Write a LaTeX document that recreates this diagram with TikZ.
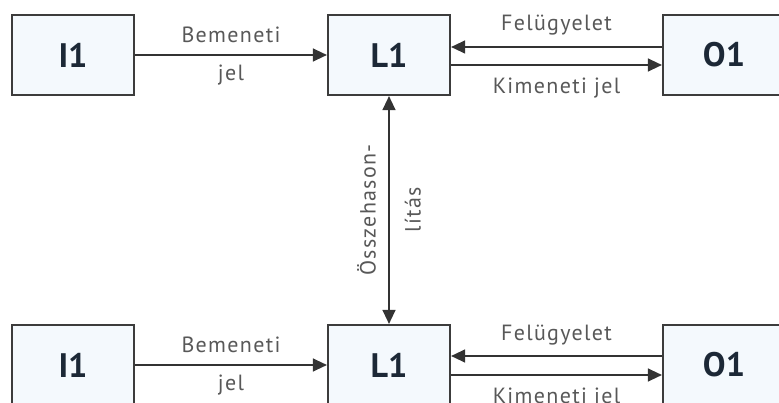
\documentclass[tikz,border=0pt]{standalone}
\usepackage{fontspec}
\setmainfont{PT Sans}
\newfontfamily\widesans[LetterSpace=6]{PT Sans}
\usetikzlibrary{arrows.meta}
\definecolor{boxfill}{HTML}{F4F9FD}
\definecolor{boxline}{HTML}{3C3C3C}
\definecolor{labelgray}{HTML}{585858}
\definecolor{boxtext}{HTML}{1C2836}

\begin{document}
\begin{tikzpicture}[x=1pt, y=-1pt,
    block/.style={draw=boxline, line width=2.2pt, fill=boxfill,
      minimum width=122pt, minimum height=80pt,
      font=\bfseries\fontsize{34}{40}\selectfont, text=boxtext},
    signal/.style={line width=1.3pt, draw=black!80},
    fwd/.style={signal, -{Triangle[length=14pt,width=13pt]}},
    twoway/.style={signal, {Triangle[length=14pt,width=13pt]}-{Triangle[length=14pt,width=13pt]}},
    lbl/.style={font=\widesans\fontsize{22}{25}\selectfont, text=labelgray}]
\useasboundingbox (0,0) rectangle (779,403);

% upper chain
\node[block] (i1a) at (73,55) {I1};
\node[block] (l1a) at (389,55) {L1};
\node[block] (o1a) at (724,55) {O1};

\draw[fwd] (i1a) -- (l1a)
    node[midway, lbl, yshift=20pt] {Bemeneti}
    node[midway, lbl, yshift=-20pt] {jel};
\draw[fwd] ([yshift=8pt]o1a.west) -- ([yshift=8pt]l1a.east)
    node[midway, lbl, yshift=22pt] {Felügyelet};
\draw[fwd] ([yshift=-10pt]l1a.east) -- ([yshift=-10pt]o1a.west)
    node[midway, lbl, yshift=-23pt] {Kimeneti jel};

% lower chain
\node[block] (i1b) at (73,365) {I1};
\node[block] (l1b) at (389,365) {L1};
\node[block] (o1b) at (724,365) {O1};

\draw[fwd] (i1b) -- (l1b)
    node[midway, lbl, yshift=20pt] {Bemeneti}
    node[midway, lbl, yshift=-20pt] {jel};
\draw[fwd] ([yshift=9pt]o1b.west) -- ([yshift=9pt]l1b.east)
    node[midway, lbl, yshift=21pt] {Felügyelet};
\draw[fwd] ([yshift=-10pt]l1b.east) -- ([yshift=-10pt]o1b.west)
    node[midway, lbl, yshift=-23pt] {Kimeneti jel};

% comparison between the two
\draw[twoway] (l1a) -- (l1b)
    node[midway, lbl, rotate=90, align=center] {Összehason-\\[20pt]lítás};
\end{tikzpicture}
\end{document}
